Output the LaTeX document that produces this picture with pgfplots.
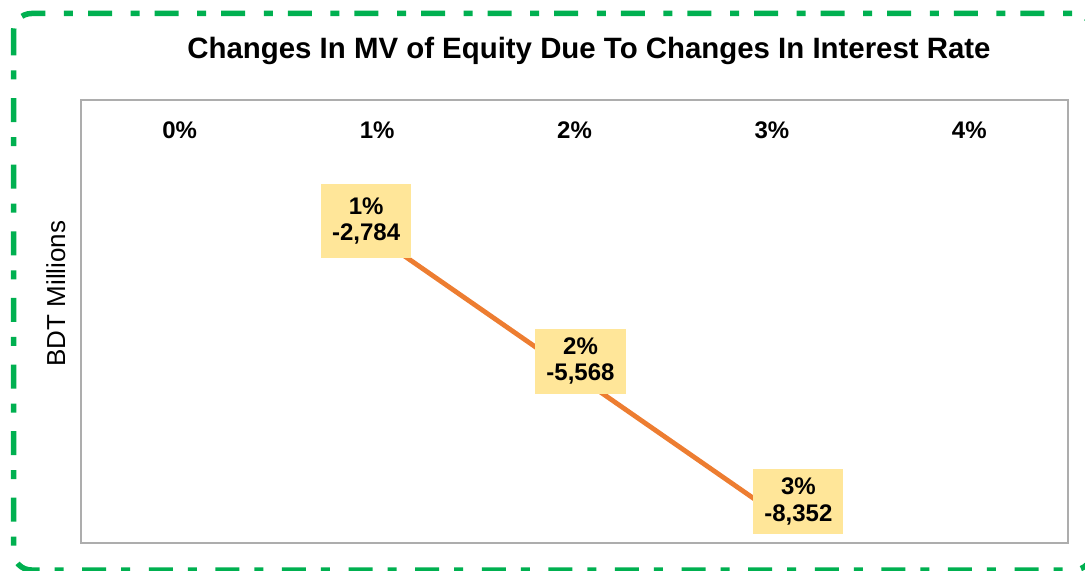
\documentclass[border=0pt]{standalone}
\usepackage{fontspec}
\setmainfont{Liberation Sans}
\usepackage{pgfplots}
\usepackage{pgfplotstable}
\pgfplotsset{compat=1.18}
\definecolor{brdgreen}{HTML}{00B050}
\definecolor{lineor}{HTML}{ED7D31}
\definecolor{lblfill}{HTML}{FFE699}
\definecolor{framegray}{HTML}{ADADAD}

\pgfplotstableread{
x y dx dy h
1 -2784 -5.5 8 37
2 -5568 3 6.5 0
3 -8352 13.25 4.75 0
}\datatable

\begin{document}
\begin{tikzpicture}
\useasboundingbox (0,0) rectangle (542.5pt,-285.5pt);
\clip (0,0) rectangle (542.5pt,-285.5pt);
\draw[brdgreen, line width=2.75pt, rounded corners=9pt,
      dash pattern=on 12pt off 7.5pt on 4.5pt off 9.3pt]
  (6.75pt,-6.75pt) rectangle (546pt,-285pt);
\node[anchor=base, font=\fontsize{14.7pt}{17pt}\selectfont\bfseries]
  at (294.5pt,-29.5pt) {Changes In MV of Equity Due To Changes In Interest Rate};
\node[rotate=90, anchor=base, font=\fontsize{13pt}{15pt}\selectfont]
  at (32.5pt,-146.75pt) {BDT Millions};
\begin{axis}[
  at={(40.5pt,-271.5pt)}, anchor=south west,
  scale only axis, width=493.5pt, height=221.5pt,
  xmin=-0.5, xmax=4.5, ymin=-9000, ymax=0,
  axis line style={framegray, line width=1pt},
  xtick={0,1,2,3,4}, xticklabels={0\%,1\%,2\%,3\%,4\%},
  xticklabel pos=upper,
  major tick length=0pt,
  ytick=\empty,
  x tick label style={font=\fontsize{12pt}{14pt}\selectfont\bfseries, anchor=center, yshift=-15pt},
  clip=false,
  /pgf/number format/assume math mode=true,
  /pgf/number format/1000 sep={,},
]
\addplot[lineor, line width=2.4pt, mark=none,
  visualization depends on={\thisrow{dx} \as \dx},
  visualization depends on={\thisrow{dy} \as \dy},
  visualization depends on={\thisrow{h} \as \hh},
  visualization depends on={x \as \xv},
  nodes near coords={\pgfmathprintnumber[fixed,precision=0]{\xv}\%\\\pgfmathprintnumber{\pgfplotspointmeta}},
  every node near coord/.append style={anchor=center, xshift=\dx pt, yshift=\dy pt,
     fill=lblfill, draw=none, align=center, text=black,
     font=\fontsize{12pt}{13.3pt}\selectfont\bfseries,
     inner xsep=5.5pt, inner ysep=4.5pt, minimum height=\hh pt},
] table[x=x, y=y, meta=y] {\datatable};
\end{axis}
\end{tikzpicture}
\end{document}
